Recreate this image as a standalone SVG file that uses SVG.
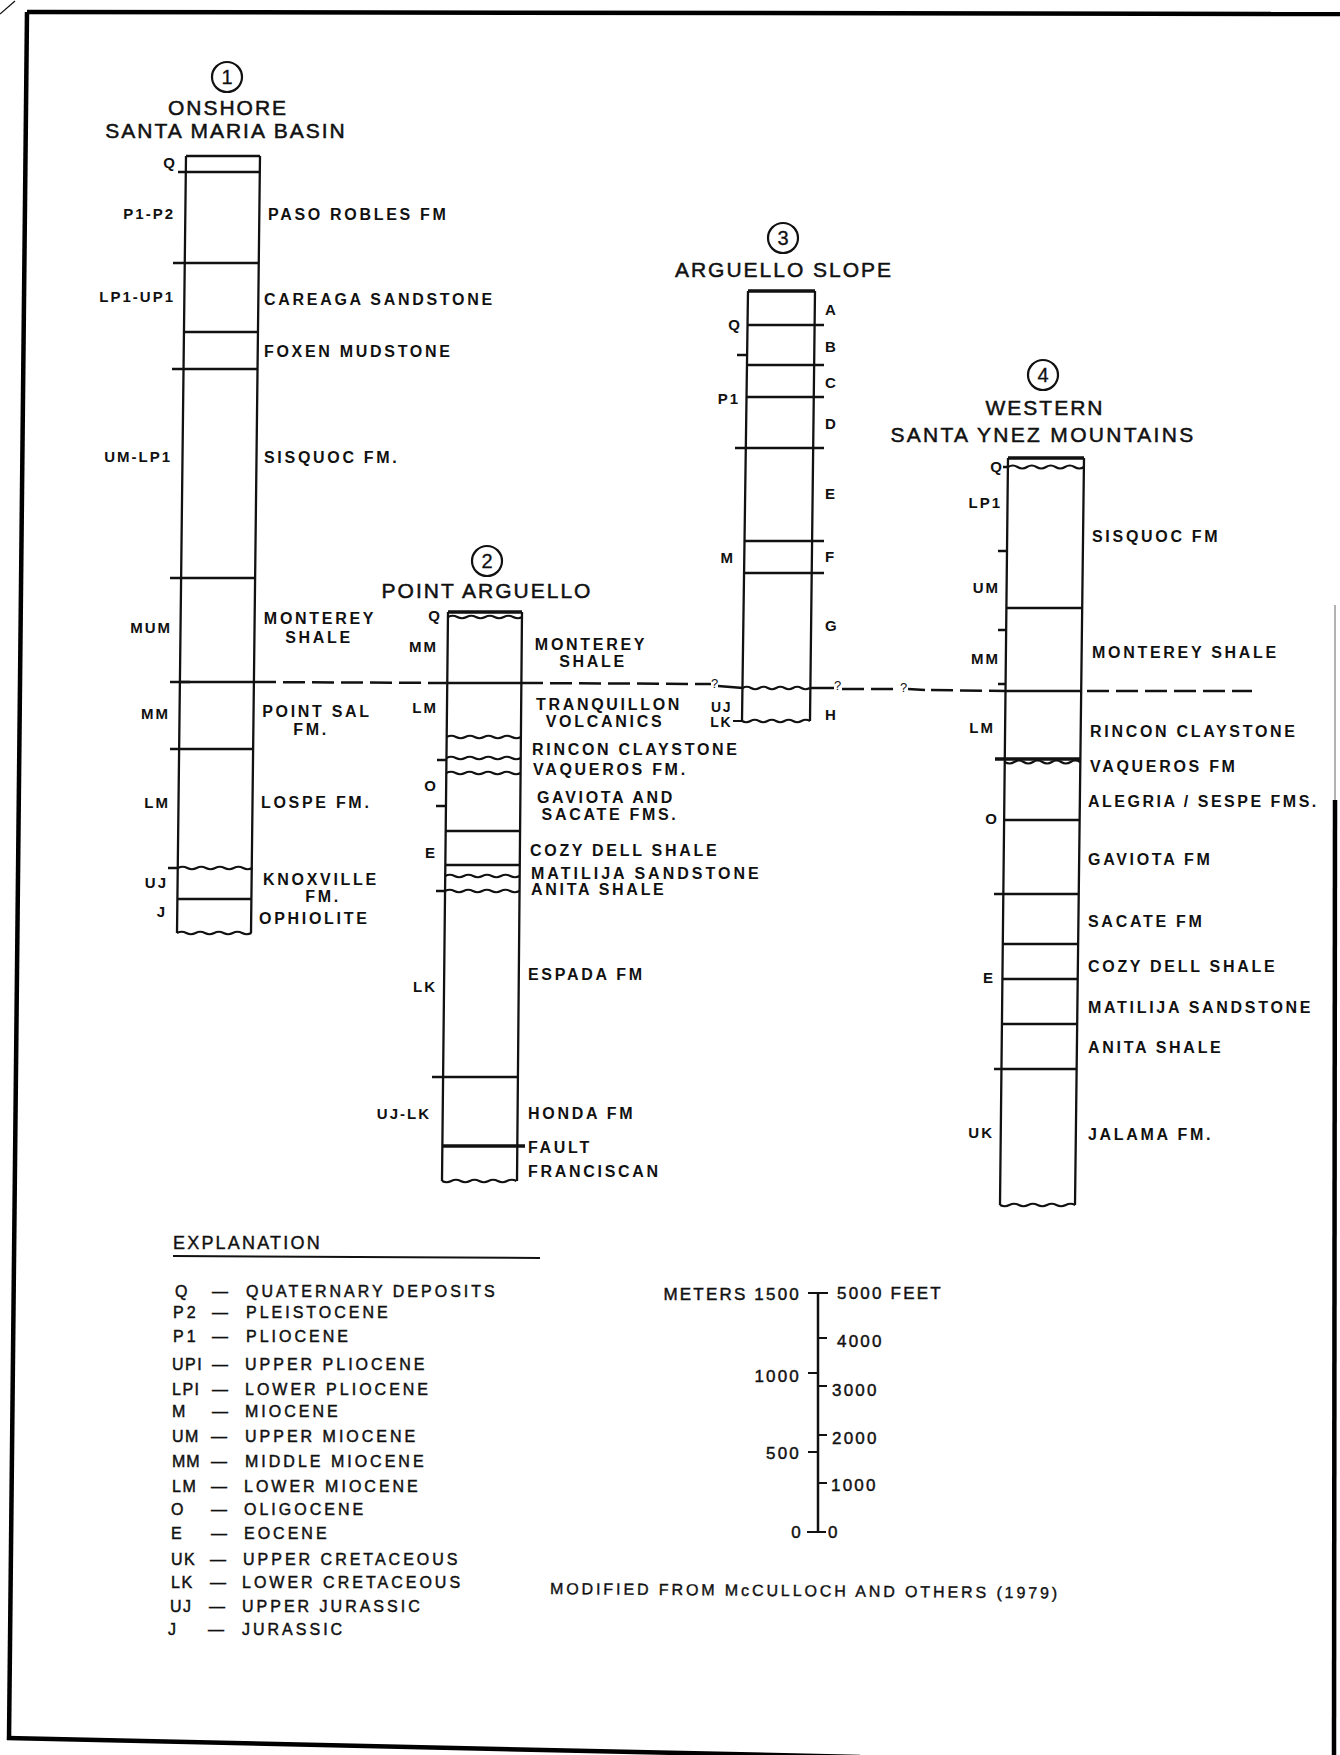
<svg xmlns="http://www.w3.org/2000/svg" width="1340" height="1755" viewBox="0 0 1340 1755">
<style>
text{font-family:"Liberation Sans",Arial,sans-serif;fill:#111}
.t{font-size:21px;letter-spacing:2px;stroke:#111;stroke-width:0.5}
.n{font-size:20px;text-anchor:middle;stroke:#111;stroke-width:0.3}
.f{font-size:16px;font-weight:bold;letter-spacing:2.7px}
.fc{font-size:16px;font-weight:bold;letter-spacing:2.7px;text-anchor:middle}
.a{font-size:15px;font-weight:bold;letter-spacing:2px;text-anchor:end}
.as{font-size:14px;font-weight:bold;letter-spacing:1.5px;text-anchor:end}
.c{font-size:15px;font-weight:bold}
.l{font-size:16px;letter-spacing:3px;stroke:#111;stroke-width:0.45}
.s{font-size:17px;letter-spacing:2.2px;stroke:#111;stroke-width:0.45}
.se{font-size:17px;letter-spacing:2.2px;stroke:#111;stroke-width:0.45;text-anchor:end}
.q{font-size:13px}
.e{fill:none;stroke:#111;stroke-width:2.3}
.h{fill:none;stroke:#111;stroke-width:2.5}
.w{fill:none;stroke:#111;stroke-width:2.2}
.k{fill:none;stroke:#111;stroke-width:3.5}
.frame{fill:none;stroke:#000;stroke-width:4.5}
.circ{fill:none;stroke:#111;stroke-width:2.2}
.dash{fill:none;stroke:#111;stroke-width:2.5;stroke-dasharray:22 7}
</style>

<g id="frame">
<path class="frame" d="M27,12 L1340,14"/>
<path class="frame" d="M27,12 L9,1740"/>
<path class="frame" d="M7,1738 L860,1757"/>
<path fill="none" stroke="#999" stroke-width="1.5" d="M1335,605 L1335,800"/>
<path class="frame" stroke-width="3" d="M1335,800 L1334,1755"/>
<path fill="none" stroke="#111" stroke-width="1.2" d="M0,14 L15,1"/>
</g>

<g id="col1">
<circle class="circ" cx="227" cy="77" r="15"/>
<text class="n" x="227" y="84">1</text>
<text class="t" x="228" y="115" text-anchor="middle">ONSHORE</text>
<text class="t" x="226" y="138" text-anchor="middle">SANTA MARIA BASIN</text>
<path class="e" d="M186,156 L260,156 M186,156 L177,933 M260,156 L251,933"/>
<path class="h" d="M178,172 H260 M173,263 H259 M184,332 H258 M172,369 H257.5 M170,578 H255 M180,682 H254 M170,749 H253 M178,899 H251.5"/>
<path class="h" d="M168,868 H178"/>
<path class="w" d="M178,868 q4.65,-2.5 9.3,0 t9.3,0 t9.3,0 t9.3,0 t9.3,0 t9.3,0 t9.3,0 t9.3,0"/>
<path class="w" d="M177,933 q4.65,-2.5 9.3,0 t9.3,0 t9.3,0 t9.3,0 t9.3,0 t9.3,0 t9.3,0 t9.3,0"/>
<text class="a" x="177" y="168">Q</text>
<text class="a" x="175" y="219">P1-P2</text>
<text class="a" x="175" y="302">LP1-UP1</text>
<text class="a" x="172" y="462">UM-LP1</text>
<text class="a" x="172" y="633">MUM</text>
<text class="a" x="170" y="719">MM</text>
<text class="a" x="170" y="808">LM</text>
<text class="a" x="168" y="888">UJ</text>
<text class="a" x="167" y="917">J</text>
<text class="f" x="268" y="220">PASO ROBLES FM</text>
<text class="f" x="264" y="305">CAREAGA SANDSTONE</text>
<text class="f" x="264" y="357">FOXEN MUDSTONE</text>
<text class="f" x="264" y="463">SISQUOC FM.</text>
<text class="fc" x="320" y="624">MONTEREY</text>
<text class="fc" x="319" y="643">SHALE</text>
<text class="fc" x="317" y="717">POINT SAL</text>
<text class="fc" x="311" y="735">FM.</text>
<text class="f" x="261" y="808">LOSPE FM.</text>
<text class="fc" x="321" y="885">KNOXVILLE</text>
<text class="fc" x="323" y="902">FM.</text>
<text class="f" x="259" y="924">OPHIOLITE</text>
</g>

<g id="col2">
<circle class="circ" cx="487" cy="561" r="15"/>
<text class="n" x="487" y="568">2</text>
<text class="t" x="487" y="598" text-anchor="middle">POINT ARGUELLO</text>
<path class="e" d="M448,612 L442,1181 M522,612 L517,1181"/>
<path class="k" d="M448,612 H522"/>
<path class="h" d="M446.6,683 H521 M436,806 H446 M445.7,831 H520 M445.3,865 H519.8 M432,1077 H518"/>
<path class="k" d="M442.4,1146 H525"/>
<path class="h" d="M437,760 H447 M436,891 H445"/>
<path class="w" d="M448,617 q4.65,-2.5 9.3,0 t9.3,0 t9.3,0 t9.3,0 t9.3,0 t9.3,0 t9.3,0 t9.3,0"/>
<path class="w" d="M446.7,737 q4.65,-2.5 9.3,0 t9.3,0 t9.3,0 t9.3,0 t9.3,0 t9.3,0 t9.3,0 t9.3,0"/>
<path class="w" d="M446.5,758 q4.65,-2.5 9.3,0 t9.3,0 t9.3,0 t9.3,0 t9.3,0 t9.3,0 t9.3,0 t9.3,0"/>
<path class="w" d="M446.3,773 q4.65,-2.5 9.3,0 t9.3,0 t9.3,0 t9.3,0 t9.3,0 t9.3,0 t9.3,0 t9.3,0"/>
<path class="w" d="M445.2,876 q4.65,-2.5 9.3,0 t9.3,0 t9.3,0 t9.3,0 t9.3,0 t9.3,0 t9.3,0 t9.3,0"/>
<path class="w" d="M445,891 q4.65,-2.5 9.3,0 t9.3,0 t9.3,0 t9.3,0 t9.3,0 t9.3,0 t9.3,0 t9.3,0"/>
<path class="w" d="M442,1181 q4.65,2.5 9.3,0 t9.3,0 t9.3,0 t9.3,0 t9.3,0 t9.3,0 t9.3,0 t9.3,0"/>
<text class="a" x="442" y="621">Q</text>
<text class="a" x="438" y="652">MM</text>
<text class="a" x="438" y="713">LM</text>
<text class="a" x="438" y="791">O</text>
<text class="a" x="437" y="858">E</text>
<text class="a" x="437" y="992">LK</text>
<text class="a" x="431" y="1119">UJ-LK</text>
<text class="fc" x="591" y="650">MONTEREY</text>
<text class="fc" x="593" y="667">SHALE</text>
<text class="fc" x="609" y="710">TRANQUILLON</text>
<text class="fc" x="605" y="727">VOLCANICS</text>
<text class="f" x="532" y="755">RINCON CLAYSTONE</text>
<text class="f" x="533" y="775">VAQUEROS FM.</text>
<text class="fc" x="606" y="803">GAVIOTA AND</text>
<text class="fc" x="610" y="820">SACATE FMS.</text>
<text class="f" x="530" y="856">COZY DELL SHALE</text>
<text class="f" x="531" y="879" style="letter-spacing:3px">MATILIJA SANDSTONE</text>
<text class="f" x="531" y="895">ANITA SHALE</text>
<text class="f" x="528" y="980">ESPADA FM</text>
<text class="f" x="528" y="1119">HONDA FM</text>
<text class="f" x="528" y="1153">FAULT</text>
<text class="f" x="528" y="1177">FRANCISCAN</text>
</g>

<g id="col3">
<circle class="circ" cx="783" cy="238" r="15"/>
<text class="n" x="783" y="245">3</text>
<text class="t" x="784" y="277" text-anchor="middle">ARGUELLO SLOPE</text>
<path class="e" d="M748,291 L742,721 M815,291 L810,721"/>
<path class="k" d="M748,291 H815"/>
<path class="h" d="M747.5,325 H824 M737,355 H747 M747,365 H824 M746.6,397 H824 M735,448 H824 M745,541 H824 M744.5,573 H824"/>
<path class="w" d="M742.6,688 q4.2,-2.5 8.4,0 t8.4,0 t8.4,0 t8.4,0 t8.4,0 t8.4,0 t8.4,0 t8.4,0"/>
<path class="w" d="M733,721 H742 q4.25,2.5 8.5,0 t8.5,0 t8.5,0 t8.5,0 t8.5,0 t8.5,0 t8.5,0 t8.5,0"/>
<text class="a" x="742" y="330">Q</text>
<text class="a" x="740" y="404">P1</text>
<text class="a" x="735" y="563">M</text>
<text class="as" x="732" y="712">UJ</text>
<text class="as" x="732" y="727">LK</text>
<text class="c" x="825" y="315">A</text>
<text class="c" x="825" y="352">B</text>
<text class="c" x="825" y="388">C</text>
<text class="c" x="825" y="429">D</text>
<text class="c" x="825" y="499">E</text>
<text class="c" x="825" y="562">F</text>
<text class="c" x="825" y="631">G</text>
<text class="c" x="825" y="720">H</text>
</g>

<g id="col4">
<circle class="circ" cx="1043" cy="375" r="15"/>
<text class="n" x="1043" y="382">4</text>
<text class="t" x="1045" y="415" text-anchor="middle">WESTERN</text>
<text class="t" x="1043" y="442" text-anchor="middle" style="letter-spacing:2.3px">SANTA YNEZ MOUNTAINS</text>
<path class="e" d="M1008,458 L1000,1205 M1084,458 L1075,1205"/>
<path class="k" d="M1008,458 H1084"/>
<path class="w" d="M1008,467 q4.75,-3 9.5,0 t9.5,0 t9.5,0 t9.5,0 t9.5,0 t9.5,0 t9.5,0 t9.5,0"/>
<path class="h" d="M1003,467 H1008 M998,551 H1007 M1006.4,608 H1082.2 M998,630 H1006 M998,684 H1006 M1004.1,820 H1079.6 M994,894 H1078.7 M1002.8,944 H1078.1 M1002.4,979 H1077.7 M1001.9,1024 H1077.2 M994,1069 H1076.6"/>
<path class="k" d="M995,759 H1080.5"/>
<path class="w" d="M1004.8,762 q4.7,3 9.4,0 t9.4,0 t9.4,0 t9.4,0 t9.4,0 t9.4,0 t9.4,0 t9.4,0"/>
<path class="w" d="M1000,1205 q4.7,2.5 9.4,0 t9.4,0 t9.4,0 t9.4,0 t9.4,0 t9.4,0 t9.4,0 t9.4,0"/>
<text class="a" x="1004" y="472">Q</text>
<text class="a" x="1002" y="508">LP1</text>
<text class="a" x="1000" y="593">UM</text>
<text class="a" x="1000" y="664">MM</text>
<text class="a" x="995" y="733">LM</text>
<text class="a" x="999" y="824">O</text>
<text class="a" x="995" y="983">E</text>
<text class="a" x="994" y="1138">UK</text>
<text class="f" x="1092" y="542">SISQUOC FM</text>
<text class="f" x="1092" y="658">MONTEREY SHALE</text>
<text class="f" x="1090" y="737">RINCON CLAYSTONE</text>
<text class="f" x="1090" y="772">VAQUEROS FM</text>
<text class="f" x="1088" y="807" style="letter-spacing:2.5px">ALEGRIA / SESPE FMS.</text>
<text class="f" x="1088" y="865">GAVIOTA FM</text>
<text class="f" x="1088" y="927">SACATE FM</text>
<text class="f" x="1088" y="972">COZY DELL SHALE</text>
<text class="f" x="1088" y="1013">MATILIJA SANDSTONE</text>
<text class="f" x="1088" y="1053">ANITA SHALE</text>
<text class="f" x="1088" y="1140">JALAMA FM.</text>
</g>

<g id="connectors">
<path class="dash" d="M170,682 H190 M254,682 L446,683 M521,683 L711,684"/>
<path class="h" d="M718,686 L743,688 M810,688 L834,688"/>
<path class="dash" d="M842,689 L897,689"/>
<path class="h" d="M908,689 L925,690"/>
<path class="dash" d="M931,690 L1006,691"/>
<path class="h" d="M1006,691 H1081"/>
<path class="dash" d="M1087,691 L1252,691"/>
<text class="q" x="711" y="688">?</text>
<text class="q" x="834" y="690">?</text>
<text class="q" x="900" y="692">?</text>
</g>

<g id="legend">
<text x="173" y="1249" style="font-size:18px;letter-spacing:2.2px;stroke:#111;stroke-width:0.4">EXPLANATION</text>
<path fill="none" stroke="#111" stroke-width="2" d="M173,1256 L540,1258"/>
<text class="l" x="175" y="1297">Q</text><text class="l" x="212" y="1297">—</text><text class="l" x="246" y="1297">QUATERNARY DEPOSITS</text>
<text class="l" x="173" y="1318">P2</text><text class="l" x="212" y="1318">—</text><text class="l" x="246" y="1318">PLEISTOCENE</text>
<text class="l" x="173" y="1342">P1</text><text class="l" x="212" y="1342">—</text><text class="l" x="246" y="1342">PLIOCENE</text>
<text class="l" x="172" y="1370" style="letter-spacing:1.5px">UPI</text><text class="l" x="212" y="1370">—</text><text class="l" x="245" y="1370">UPPER PLIOCENE</text>
<text class="l" x="172" y="1395" style="letter-spacing:1.5px">LPI</text><text class="l" x="212" y="1395">—</text><text class="l" x="245" y="1395">LOWER PLIOCENE</text>
<text class="l" x="172" y="1417">M</text><text class="l" x="212" y="1417">—</text><text class="l" x="245" y="1417">MIOCENE</text>
<text class="l" x="172" y="1442" style="letter-spacing:1.5px">UM</text><text class="l" x="211" y="1442">—</text><text class="l" x="245" y="1442">UPPER MIOCENE</text>
<text class="l" x="172" y="1467" style="letter-spacing:1px">MM</text><text class="l" x="211" y="1467">—</text><text class="l" x="245" y="1467">MIDDLE MIOCENE</text>
<text class="l" x="172" y="1492" style="letter-spacing:1.5px">LM</text><text class="l" x="211" y="1492">—</text><text class="l" x="244" y="1492">LOWER MIOCENE</text>
<text class="l" x="171" y="1515">O</text><text class="l" x="211" y="1515">—</text><text class="l" x="244" y="1515">OLIGOCENE</text>
<text class="l" x="171" y="1539">E</text><text class="l" x="211" y="1539">—</text><text class="l" x="244" y="1539">EOCENE</text>
<text class="l" x="171" y="1565" style="letter-spacing:1.5px">UK</text><text class="l" x="210" y="1565">—</text><text class="l" x="243" y="1565">UPPER CRETACEOUS</text>
<text class="l" x="171" y="1588" style="letter-spacing:1.5px">LK</text><text class="l" x="210" y="1588">—</text><text class="l" x="242" y="1588">LOWER CRETACEOUS</text>
<text class="l" x="170" y="1612" style="letter-spacing:1.5px">UJ</text><text class="l" x="209" y="1612">—</text><text class="l" x="242" y="1612">UPPER JURASSIC</text>
<text class="l" x="168" y="1635">J</text><text class="l" x="208" y="1635">—</text><text class="l" x="242" y="1635">JURASSIC</text>
</g>

<g id="scale">
<path fill="none" stroke="#111" stroke-width="2.5" d="M818,1293 V1533"/>
<path fill="none" stroke="#111" stroke-width="2" d="M808,1293 H828 M808,1373 H818 M808,1452 H818 M807,1532 H826 M818,1338 H827 M818,1386 H827 M818,1435 H827 M818,1483 H827"/>
<text class="se" x="801" y="1300">METERS 1500</text>
<text class="s" x="837" y="1299">5000 FEET</text>
<text class="s" x="837" y="1347">4000</text>
<text class="se" x="801" y="1382">1000</text>
<text class="s" x="832" y="1396">3000</text>
<text class="s" x="832" y="1444">2000</text>
<text class="se" x="801" y="1459">500</text>
<text class="s" x="831" y="1491">1000</text>
<text class="se" x="803" y="1538">0</text>
<text class="s" x="828" y="1538">0</text>
<text x="550" y="1594" transform="rotate(0.5 550 1594)" style="font-size:16px;letter-spacing:2.9px;stroke:#111;stroke-width:0.4">MODIFIED FROM McCULLOCH AND OTHERS (1979)</text>
</g>
</svg>
